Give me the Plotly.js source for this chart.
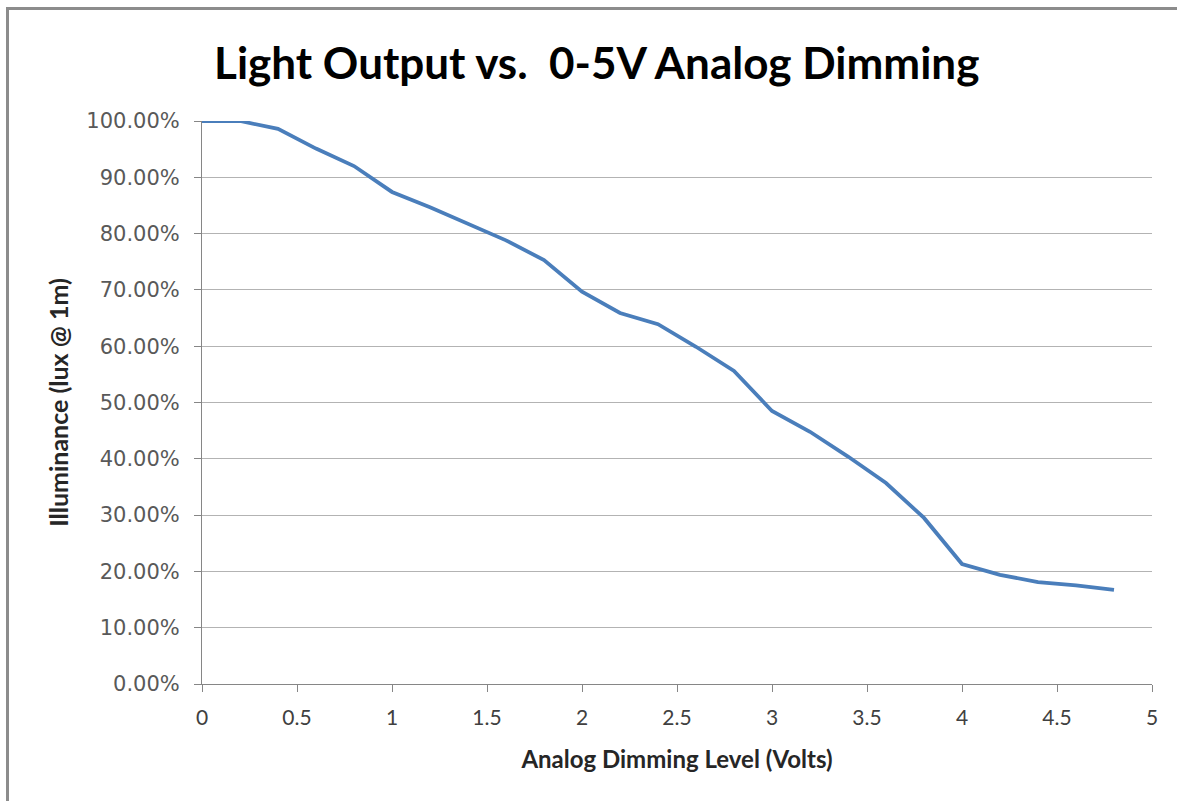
<!DOCTYPE html>
<html>
<head>
<meta charset="utf-8">
<script src="https://cdn.plot.ly/plotly-3.0.1.min.js"></script>
<style>
  html, body { margin: 0; padding: 0; background: #ffffff; }
  #chart { position: absolute; left: 0; top: 0; width: 1177px; height: 801px; }
  #frame { position: absolute; left: 6px; top: 7px; width: 1200px; height: 900px;
           border-left: 3px solid #8c8c8c; border-top: 3px solid #8c8c8c; pointer-events: none; }
</style>
</head>
<body>
<div id="chart"></div>
<div id="frame"></div>
<script>
// Analog dimming level (Volts)
const volts = [0, 0.2, 0.4, 0.6, 0.8, 1.0, 1.2, 1.4, 1.6, 1.8, 2.0, 2.2, 2.4,
               2.6, 2.8, 3.0, 3.2, 3.4, 3.6, 3.8, 4.0, 4.2, 4.4, 4.6, 4.8];
// Illuminance (% of full output)
const illuminance = [100.0, 100.0, 98.6, 95.1, 92.0, 87.4, 84.7, 81.8, 78.8, 75.3,
                     69.7, 65.9, 63.9, 59.9, 55.6, 48.5, 44.8, 40.4, 35.7, 29.5,
                     21.3, 19.4, 18.1, 17.5, 16.7];
const xTickVals = [0, 0.5, 1, 1.5, 2, 2.5, 3, 3.5, 4, 4.5, 5];
const xTickText = ["0", "0.5", "1", "1.5", "2", "2.5", "3", "3.5", "4", "4.5", "5"];
const yTickVals = [0, 10, 20, 30, 40, 50, 60, 70, 80, 90, 100];
const yTickText = ["0.00%", "10.00%", "20.00%", "30.00%", "40.00%", "50.00%",
                   "60.00%", "70.00%", "80.00%", "90.00%", "100.00%"];

const trace = {
  x: volts,
  y: illuminance,
  type: 'scatter',
  mode: 'lines',
  line: { color: '#4A7EBB', width: 3.8 },
  hoverinfo: 'x+y'
};

const layout = {
  width: 1177,
  height: 801,
  paper_bgcolor: '#ffffff',
  plot_bgcolor: '#ffffff',
  margin: { l: 202, r: 25, t: 121, b: 117 },
  showlegend: false,
  title: {
    text: 'Light Output vs.  0-5V Analog Dimming',
    font: { family: 'Lato, "Open Sans", sans-serif', size: 44, color: '#000000', weight: 'bold' },
    x: 0.507, xref: 'container', xanchor: 'center',
    y: 0.92, yref: 'container', yanchor: 'middle'
  },
  xaxis: {
    range: [0, 5],
    tickvals: xTickVals,
    ticktext: xTickText,
    ticks: 'outside',
    ticklen: 7,
    tickcolor: '#868686',
    ticklabelstandoff: 8,
    showline: true,
    linecolor: '#868686',
    linewidth: 1,
    showgrid: false,
    zeroline: false,
    tickfont: { family: 'Lato, "Open Sans", sans-serif', size: 21, color: '#404040' },
    title: {
      text: 'Analog Dimming Level (Volts)',
      font: { family: 'Lato, "Open Sans", sans-serif', size: 24, color: '#262626', weight: 'bold' },
      standoff: 22
    }
  },
  yaxis: {
    range: [0, 100],
    tickvals: yTickVals,
    ticktext: yTickText,
    ticks: 'outside',
    ticklen: 7,
    tickcolor: '#868686',
    ticklabelstandoff: 10,
    showline: true,
    linecolor: '#868686',
    linewidth: 1,
    showgrid: true,
    gridcolor: '#b3b3b3',
    gridwidth: 1,
    zeroline: false,
    tickfont: { family: '"DejaVu Sans", sans-serif', size: 21, color: '#595959' },
    title: {
      text: 'Illuminance (lux @ 1m)',
      font: { family: 'Lato, "Open Sans", sans-serif', size: 25, color: '#262626', weight: 'bold' },
      standoff: 10
    }
  }
};

Plotly.newPlot('chart', [trace], layout, { displayModeBar: false, staticPlot: true });
</script>
</body>
</html>
